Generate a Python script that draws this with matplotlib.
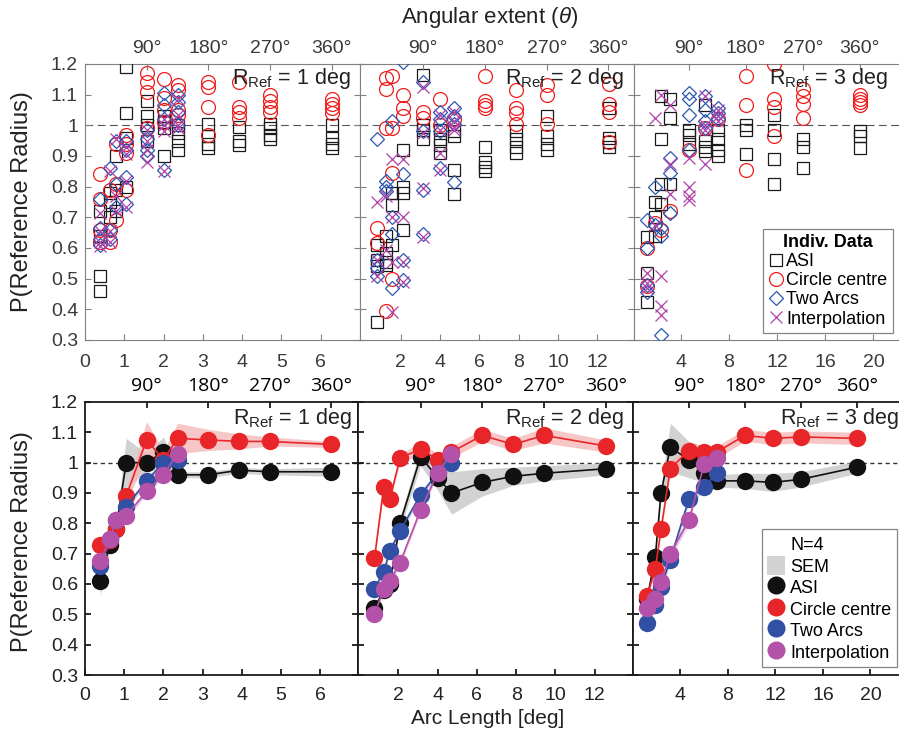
import matplotlib
matplotlib.use("Agg")
import matplotlib.pyplot as plt
import numpy as np
from matplotlib.lines import Line2D
from matplotlib.patches import Patch

plt.rcParams['font.family'] = ['Liberation Sans', 'DejaVu Sans']
plt.rcParams['mathtext.fontset'] = 'custom'
plt.rcParams['mathtext.rm'] = 'Liberation Sans'
plt.rcParams['mathtext.it'] = 'Liberation Sans:italic'

# arc lengths tested (deg) for each reference radius
arc_r1 = [0.39, 0.63, 0.79, 1.05, 1.57, 2.0, 2.36, 3.14, 3.93, 4.71, 6.28]
arc_r2 = [0.79, 1.26, 1.57, 2.09, 3.14, 4.0, 4.71, 6.28, 7.85, 9.42, 12.57]
arc_r3 = [1.18, 1.88, 2.36, 3.14, 4.71, 6.0, 7.07, 9.42, 11.78, 14.14, 18.85]
radii = [1, 2, 3]

# ---- individual observer data, one list per arc length ----
asi_i_r1 = [[0.46, 0.51, 0.64, 0.72], [0.70, 0.75, 0.78], [0.72, 0.79, 0.90],
            [0.80, 0.96, 1.04, 1.19], [0.95, 1.0, 1.03, 1.08], [0.90, 0.99, 1.01, 1.03],
            [0.92, 0.95, 0.975, 1.0], [0.925, 0.94, 0.965, 1.005], [0.935, 0.95, 0.995],
            [0.955, 0.97, 0.99, 1.005], [0.925, 0.94, 0.96, 1.0]]
cc_i_r1 = [[0.62, 0.66, 0.76, 0.84], [0.62, 0.66, 0.79], [0.69, 0.81, 0.94],
           [0.79, 0.91, 0.94, 0.97], [0.99, 1.11, 1.14, 1.17], [1.01, 1.05, 1.09, 1.15],
           [1.035, 1.05, 1.115, 1.13], [0.97, 1.06, 1.125, 1.14], [1.025, 1.045, 1.06, 1.14],
           [1.045, 1.06, 1.08, 1.10], [1.04, 1.055, 1.07, 1.085]]
ta_i_r1 = [[0.61, 0.63, 0.665, 0.76], [0.63, 0.66, 0.86], [0.735, 0.81, 0.95],
           [0.745, 0.83, 0.92, 0.95], [0.90, 0.92, 0.955, 0.985], [0.855, 1.02, 1.065, 1.105],
           [1.0, 1.045, 1.075, 1.10]]
ip_i_r1 = [[0.605, 0.62, 0.655, 0.715], [0.62, 0.655, 0.85], [0.72, 0.77, 0.955],
           [0.735, 0.82, 0.905, 0.93], [0.88, 0.92, 0.95, 0.985], [0.85, 0.98, 1.0, 1.02],
           [0.99, 1.0, 1.035, 1.085]]

asi_i_r2 = [[0.36, 0.54, 0.56, 0.61], [0.545, 0.555, 0.585, 0.64], [0.61, 0.74, 0.78],
            [0.66, 0.78, 0.80, 0.92], [0.955, 0.985, 1.0, 1.165], [0.91, 0.935, 0.955, 0.985],
            [0.775, 0.855, 0.965, 0.98], [0.85, 0.865, 0.88, 0.93], [0.91, 0.93, 0.955, 0.98],
            [0.92, 0.94, 0.965, 1.03], [0.93, 0.945, 0.96, 1.055]]
cc_i_r2 = [[0.615, 0.665], [0.395, 0.99, 1.12, 1.155], [0.50, 0.845, 0.99, 1.16],
           [1.03, 1.055, 1.10], [1.025, 1.045], [1.0, 1.085], [1.02],
           [1.055, 1.065, 1.08, 1.16], [1.005, 1.04, 1.055, 1.115], [1.005, 1.10, 1.13],
           [0.945, 1.045, 1.07, 1.135]]
ta_i_r2 = [[0.51, 0.535, 0.56, 0.955], [0.785, 0.80, 0.82], [0.47, 0.645, 0.70, 1.015],
           [0.495, 0.56, 0.84, 1.205], [0.645, 0.79, 0.98, 1.14], [0.86, 0.98, 1.02, 1.045],
           [0.815, 1.005, 1.03, 1.055]]
ip_i_r2 = [[0.51, 0.56, 0.75], [0.595, 0.77], [0.39, 0.555, 0.70, 0.89],
           [0.49, 0.555, 0.70, 0.89], [0.635, 0.795, 0.975, 1.125], [0.855, 0.91, 0.985, 1.035],
           [0.985, 0.995, 1.015, 1.045]]

asi_i_r3 = [[0.425, 0.52, 0.635], [0.64, 0.70, 0.75], [0.745, 0.81, 0.955, 1.095],
            [0.81, 1.025, 1.085], [0.94, 0.97, 0.985], [0.915, 0.93, 0.95, 1.065],
            [0.90, 0.92, 0.955, 0.985], [0.905, 0.985, 1.0], [0.81, 0.89, 0.985, 1.035],
            [0.86, 0.93, 0.955], [0.925, 0.965, 0.98]]
cc_i_r3 = [[0.475, 0.60], [0.68], [0.66], [0.72], [0.92], [0.99], [1.02],
           [0.855, 1.065, 1.16], [0.965, 1.06, 1.085, 1.20], [1.025, 1.07, 1.095, 1.12],
           [1.065, 1.075, 1.085, 1.10]]
ta_i_r3 = [[0.455, 0.48, 0.60, 0.69], [0.675, 0.80], [0.315, 0.64, 0.665],
           [0.715, 0.845, 0.895], [0.92, 1.035, 1.085, 1.105], [0.99, 1.015, 1.05, 1.095],
           [1.02, 1.04, 1.055]]
ip_i_r3 = [[0.47, 0.485, 0.52], [0.675, 1.025], [0.38, 0.41, 0.51, 1.10],
           [0.775, 0.875, 1.065], [0.755, 0.77, 0.80, 0.895], [0.875, 0.985, 1.0, 1.095],
           [1.015, 1.03, 1.05]]

# ---- group means (N=4) and SEM ----
asi_r1 = [0.61, 0.73, 0.78, 1.00, 1.00, 1.035, 0.96, 0.96, 0.975, 0.97, 0.97]
asi_sem_r1 = [0.05, 0.02, 0.02, 0.08, 0.03, 0.05, 0.01, 0.01, 0.01, 0.01, 0.015]
cc_r1 = [0.73, 0.745, 0.78, 0.89, 1.075, 1.01, 1.08, 1.075, 1.07, 1.07, 1.06]
cc_sem_r1 = [0.02, 0.02, 0.02, 0.02, 0.06, 0.03, 0.05, 0.035, 0.025, 0.015, 0.01]
ta_r1 = [0.66, 0.75, 0.81, 0.855, 0.94, 1.0, 1.01]
ta_sem_r1 = [0.01, 0.01, 0.01, 0.01, 0.01, 0.01, 0.01]
ip_r1 = [0.675, 0.75, 0.81, 0.825, 0.905, 0.96, 1.03]
ip_sem_r1 = [0.01, 0.01, 0.01, 0.01, 0.01, 0.01, 0.01]

asi_r2 = [0.52, 0.58, 0.60, 0.80, 1.02, 0.95, 0.90, 0.935, 0.955, 0.965, 0.98]
asi_sem_r2 = [0.01, 0.01, 0.01, 0.02, 0.03, 0.04, 0.07, 0.045, 0.03, 0.025, 0.02]
cc_r2 = [0.685, 0.92, 0.88, 1.015, 1.045, 1.01, 1.035, 1.09, 1.06, 1.09, 1.055]
cc_sem_r2 = [0.01, 0.01, 0.01, 0.015, 0.02, 0.02, 0.02, 0.02, 0.02, 0.025, 0.02]
ta_r2 = [0.585, 0.64, 0.71, 0.775, 0.895, 0.965, 1.0]
ta_sem_r2 = [0.01, 0.01, 0.01, 0.01, 0.01, 0.01, 0.01]
ip_r2 = [0.50, 0.585, 0.61, 0.67, 0.845, 0.965, 1.03]
ip_sem_r2 = [0.01, 0.01, 0.01, 0.01, 0.01, 0.01, 0.01]

asi_r3 = [0.55, 0.69, 0.90, 1.05, 1.01, 0.965, 0.94, 0.94, 0.935, 0.945, 0.985]
asi_sem_r3 = [0.01, 0.01, 0.02, 0.08, 0.06, 0.03, 0.02, 0.025, 0.03, 0.025, 0.02]
cc_r3 = [0.56, 0.65, 0.78, 0.98, 1.04, 1.035, 1.035, 1.09, 1.08, 1.085, 1.08]
cc_sem_r3 = [0.01, 0.01, 0.01, 0.02, 0.03, 0.02, 0.02, 0.02, 0.02, 0.02, 0.02]
ta_r3 = [0.47, 0.53, 0.59, 0.68, 0.88, 0.92, 0.965]
ta_sem_r3 = [0.01, 0.01, 0.01, 0.015, 0.015, 0.015, 0.015]
ip_r3 = [0.52, 0.55, 0.605, 0.70, 0.81, 0.995, 1.015]
ip_sem_r3 = [0.01, 0.01, 0.01, 0.015, 0.015, 0.015, 0.015]

xtick_sets = [[0, 1, 2, 3, 4, 5, 6], [2, 4, 6, 8, 10, 12], [4, 8, 12, 16, 20]]
deg_labels = ['90°', '180°', '270°', '360°']
ytick_vals = [0.3, 0.4, 0.5, 0.6, 0.7, 0.8, 0.9, 1.0, 1.1, 1.2]
ytick_labels = ['0.3', '0.4', '0.5', '0.6', '0.7', '0.8', '0.9', '1', '1.1', '1.2']
method_names = ['ASI', 'Circle centre', 'Two Arcs', 'Interpolation']

arcs = [arc_r1, arc_r2, arc_r3]
indiv = [[asi_i_r1, cc_i_r1, ta_i_r1, ip_i_r1],
         [asi_i_r2, cc_i_r2, ta_i_r2, ip_i_r2],
         [asi_i_r3, cc_i_r3, ta_i_r3, ip_i_r3]]
means = [[(asi_r1, asi_sem_r1), (cc_r1, cc_sem_r1), (ta_r1, ta_sem_r1), (ip_r1, ip_sem_r1)],
         [(asi_r2, asi_sem_r2), (cc_r2, cc_sem_r2), (ta_r2, ta_sem_r2), (ip_r2, ip_sem_r2)],
         [(asi_r3, asi_sem_r3), (cc_r3, cc_sem_r3), (ta_r3, ta_sem_r3), (ip_r3, ip_sem_r3)]]

top_colors = ['#1a1a1a', '#f01c1c', '#2a58b0', '#b040a8']
top_markers = [('s', 8.5), ('o', 10), ('D', 7.5), ('x', 8)]
bot_colors = ['#111111', '#e8262a', '#3150a4', '#b352a8']
shade_colors = ['#c4c4c4', '#f5b5b5', '#bcc6e8', '#e8bce2']

W, H = 899, 744
fig = plt.figure(figsize=(W / 100, H / 100), dpi=100)


def add_ax(l, r, t, b):
    return fig.add_axes([l / W, 1 - b / H, (r - l) / W, (b - t) / H])


top_cols = [(85, 360), (360, 633.5), (633.5, 906)]
top_xlims = [(0, 7.0), (-0.08, 13.84), (0.08, 22.7)]
bot_cols = [(85, 358), (358, 633), (633, 906)]
bot_xlims = [(0, 6.96), (-0.05, 13.95), (0, 23.0)]


def style(ax, k, xlim, row):
    spine_c = '#808080' if row == 0 else '#1a1a1a'
    lab_c = '#3a3a3a' if row == 0 else '#222222'
    lw = 0.8 if row == 0 else 1.3
    ax.set_xlim(xlim)
    ax.set_ylim(0.3, 1.2)
    ax.set_xticks(xtick_sets[k])
    ax.set_xticklabels([str(v) for v in xtick_sets[k]])
    ax.set_yticks(ytick_vals)
    ax.set_yticklabels(ytick_labels if k == 0 else [])
    ax.tick_params(direction='in', left=True, right=True, top=False, length=4,
                   labelsize=14, labelcolor=lab_c, color=spine_c, width=lw)
    ax.tick_params(axis='x', pad=10 if row == 0 else 9)
    ax.tick_params(axis='y', pad=5)
    for s in ax.spines.values():
        s.set_color(spine_c)
        s.set_linewidth(lw)
    tw = ax.twiny()
    tw.set_xlim(xlim)
    r = radii[k]
    tw.set_xticks([r * np.pi / 2, r * np.pi, r * 1.5 * np.pi, r * 2 * np.pi])
    if row == 0:
        tw.set_xticklabels(deg_labels, fontsize=14, color=lab_c)
    else:
        tw.set_xticklabels(deg_labels, fontsize=14, color='#000000',
                           fontfamily=['Open Sans', 'Liberation Sans'], fontweight='normal')
    tw.tick_params(direction='in', length=4, pad=5, color=spine_c, width=lw)
    for s in tw.spines.values():
        s.set_visible(False)
    return tw


# ---------------- top row: individual data ----------------
for k in range(3):
    ax = add_ax(top_cols[k][0], top_cols[k][1], 64, 340)
    style(ax, k, top_xlims[k], 0)
    ax.axhline(1.0, color='#555555', lw=0.8, ls=(0, (7, 4)), zorder=1)
    arc = arcs[k]
    for m in range(4):
        xs, ys = [], []
        for i, col in enumerate(indiv[k][m]):
            for v in col:
                xs.append(arc[i])
                ys.append(v)
        mk, ms = top_markers[m]
        if mk == 'x':
            ax.plot(xs, ys, ls='none', marker=mk, ms=ms, mew=0.9, color=top_colors[m], zorder=3 + m)
        else:
            ax.plot(xs, ys, ls='none', marker=mk, ms=ms, mew=0.9, mfc='none',
                    mec=top_colors[m], zorder=3 + m)

# ---------------- bottom row: means ----------------
for k in range(3):
    ax = add_ax(bot_cols[k][0], bot_cols[k][1], 402, 675)
    style(ax, k, bot_xlims[k], 1)
    ax.axhline(1.0, color='#333333', lw=1.0, ls=(0, (3, 2.5)), zorder=1)
    arc = arcs[k]
    for m in range(4):
        mu, se = means[k][m]
        x = arc[:len(mu)]
        lo = [a - b for a, b in zip(mu, se)]
        hi = [a + b for a, b in zip(mu, se)]
        ax.fill_between(x, lo, hi, color=shade_colors[m], lw=0, alpha=0.75, zorder=2)
    for m in range(4):
        mu, se = means[k][m]
        x = arc[:len(mu)]
        ax.plot(x, mu, '-o', color=bot_colors[m], lw=1.2, ms=12.5, mec=bot_colors[m],
                mew=0, zorder=4 + m)

# R_Ref annotations
for k, xr in enumerate([351, 624, 888]):
    fig.text(xr / W, 1 - 66 / H, r'R$_{\mathrm{Ref}}$ = %d deg' % radii[k],
             ha='right', va='top', fontsize=15.5, color='#222222')
for k, xr in enumerate([352, 624, 899]):
    fig.text(xr / W, 1 - 406 / H, r'R$_{\mathrm{Ref}}$ = %d deg' % radii[k],
             ha='right', va='top', fontsize=15.5, color='#222222')

# axis labels
fig.text(490 / W, 1 - 18 / H, r'Angular extent ($\theta$)', ha='center', va='center',
         fontsize=16, color='#222222')
fig.text(488 / W, 1 - 718 / H, 'Arc Length [deg]', ha='center', va='center',
         fontsize=15, color='#222222')
fig.text(22 / W, 1 - 202 / H, 'P(Reference Radius)', rotation=90, ha='center', va='center',
         fontsize=17, color='#222222')
fig.text(22 / W, 1 - 542 / H, 'P(Reference Radius)', rotation=90, ha='center', va='center',
         fontsize=17, color='#222222')

# legends
top_handles = []
for m in range(4):
    mk, ms = top_markers[m]
    if mk == 'x':
        top_handles.append(Line2D([], [], ls='none', marker=mk, ms=ms, mew=0.9, color=top_colors[m]))
    else:
        top_handles.append(Line2D([], [], ls='none', marker=mk, ms=ms, mew=0.9, mfc='none',
                                  mec=top_colors[m]))
leg1 = fig.legend(top_handles, method_names, title='Indiv. Data', loc='lower right',
                  bbox_to_anchor=(893 / W, 1 - 333 / H), frameon=True, fancybox=False,
                  edgecolor='#666666', fontsize=13,
                  title_fontproperties={'weight': 'bold', 'size': 13},
                  handlelength=0.8, handletextpad=0.2, labelspacing=0.12, borderpad=0.3,
                  borderaxespad=0)
leg1.get_frame().set_linewidth(0.9)

bot_handles = [Line2D([], [], ls='none'), Patch(fc='#d3d3d3', ec='none')]
for m in range(4):
    bot_handles.append(Line2D([], [], ls='none', marker='o', ms=13, mew=0, color=bot_colors[m]))
leg2 = fig.legend(bot_handles, ['N=4', 'SEM'] + method_names, loc='lower right',
                  bbox_to_anchor=(897 / W, 1 - 667 / H), frameon=True, fancybox=False,
                  edgecolor='#666666', fontsize=13, handlelength=1.0, handleheight=1.2,
                  handletextpad=0.3, labelspacing=0.12, borderpad=0.3, borderaxespad=0)
leg2.get_frame().set_linewidth(0.9)

fig.savefig('out.png', dpi=100)
